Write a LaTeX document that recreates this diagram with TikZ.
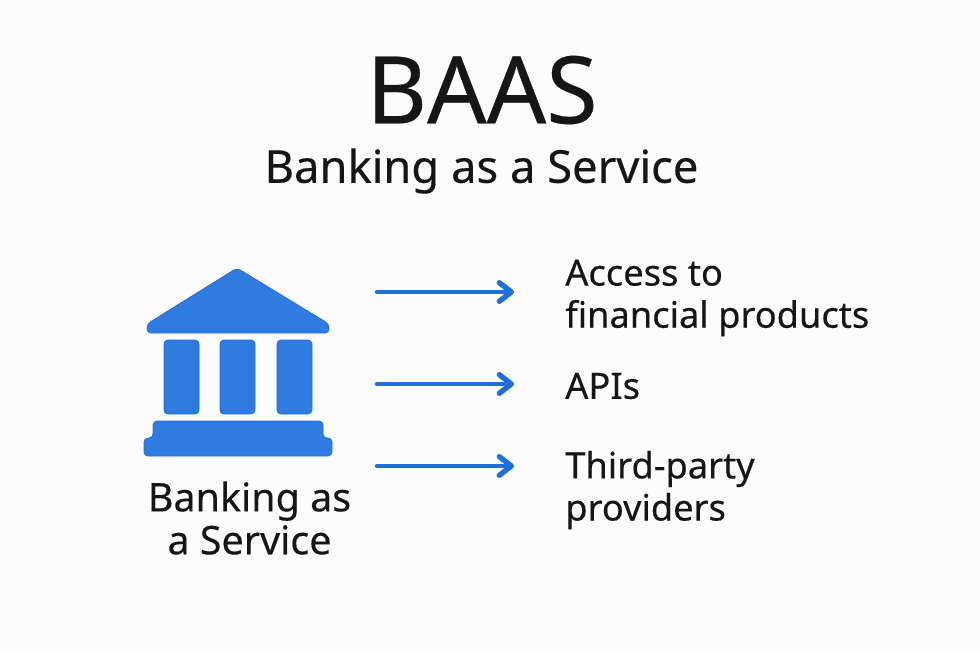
\documentclass[tikz,border=0pt]{standalone}
\usepackage{fontspec}
\setmainfont{Noto Sans}[FakeBold=0.3]
\usetikzlibrary{arrows.meta}
\definecolor{bankblue}{HTML}{2F7BE0}
\definecolor{bankedge}{HTML}{1F6FDB}
\definecolor{inkblack}{HTML}{161616}
\tikzset{px/.style={x=0.75pt,y=-0.75pt},
  bankpart/.style={fill=bankblue,draw=bankedge,line width=0.6pt,rounded corners=3pt},
  flowarrow/.style={draw=bankedge,line width=3.4pt,line cap=round,line join=round,shorten >=51*0.75pt,-{Straight Barb[length=9pt,width=14pt,line width=4pt,round]}},
  bodytext/.style={font=\fontsize{27.2pt}{31.6pt}\bfseries,text=inkblack,inner sep=0pt,align=left,anchor=west}}
\begin{document}
\begin{tikzpicture}[px]
\fill[white!99!black] (0,0) rectangle (980,653);
\useasboundingbox (0,0) rectangle (980,653);
\node[font=\fontsize{70pt}{70pt}\bfseries,text=inkblack,inner sep=0pt] (title) at (482,90) {BAAS};
\node[font=\fontsize{34pt}{38pt}\bfseries,text=inkblack,inner sep=0pt] (subtitle) at (481.5,171) {Banking as a Service};
% the bank
\draw[bankpart] (237,268) -- (329,324) -- (329,333) -- (147,333) -- (147,324) -- cycle;
\foreach \cx in {164,220,277}
  \draw[bankpart] (\cx,340) rectangle (\cx+35,414);
\draw[bankpart] (153,438) -- (153,421) -- (323,421) -- (323,438) -- (332,438) -- (332,456) -- (144,456) -- (144,438) -- cycle;
\node[bodytext,font=\fontsize{29.6pt}{32.2pt}\bfseries,align=center,anchor=center] (banklabel) at (249.5,518) {Banking as\\a Service};
% right side
\node[bodytext] (prodA) at (565,298) {Access to\\financial products};
\node[bodytext] (prodB) at (565,386) {APIs};
\node[bodytext] (prodC) at (565,490) {Third-party\\providers};
\coordinate (startA) at (377,292);
\coordinate (startB) at (377,384);
\coordinate (startC) at (377,466);
\draw[flowarrow] (startA) -- (prodA.west |- startA);
\draw[flowarrow] (startB) -- (prodB.west |- startB);
\draw[flowarrow] (startC) -- (prodC.west |- startC);
\end{tikzpicture}
\end{document}
